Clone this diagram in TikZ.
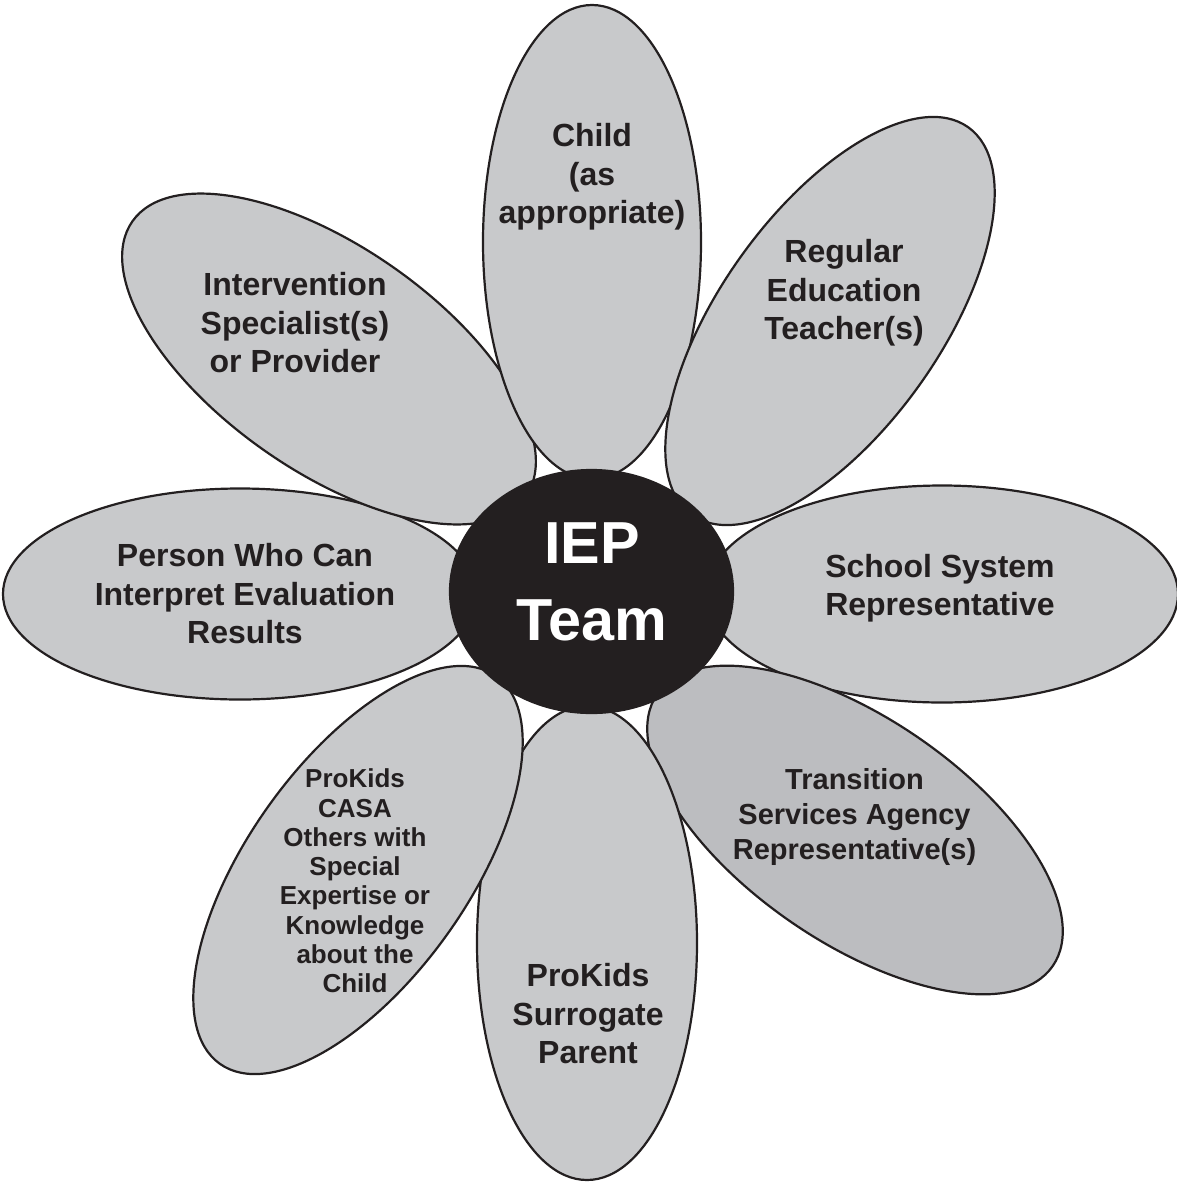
\documentclass[tikz,border=0pt]{standalone}
\usepackage{fontspec}
\setmainfont{Liberation Sans}
\usetikzlibrary{shapes.geometric}
\definecolor{petalgray}{RGB}{200,201,203}
\definecolor{petaldark}{RGB}{188,189,192}
\definecolor{ink}{RGB}{35,31,32}
\begin{document}
\begin{tikzpicture}[x=1pt,y=-1pt,
  petal/.style={ellipse, draw=ink, line width=2.2pt, fill=petalgray,
                inner sep=0pt, outer sep=0pt},
  hub/.style={ellipse, draw=ink, line width=2.2pt, fill=ink,
              inner sep=0pt, outer sep=0pt},
  lbl/.style={text=ink, align=center, inner sep=0pt,
              font=\bfseries\fontsize{32}{38.5}\selectfont},
  lblsmall/.style={lbl, font=\bfseries\fontsize{29}{35}\selectfont},
  lbltiny/.style={lbl, font=\bfseries\fontsize{26}{29.3}\selectfont},
  hubtext/.style={text=white, align=center, inner sep=0pt,
                  font=\bfseries\fontsize{59.3}{77}\selectfont}]
\useasboundingbox (0,0) rectangle (1177,1184);

% petals around the centre
\node[petal, minimum width=474, minimum height=211] (pPerson) at (240,594) {};
\node[petal, minimum width=480, minimum height=224, rotate=-35] (pInterv) at (329,359) {};
\node[petal, minimum width=474, minimum height=218, rotate=90] (pChild) at (592,242) {};
\node[petal, minimum width=476, minimum height=220, rotate=54.5] (pRegular) at (830,321) {};
\node[petal, minimum width=472, minimum height=217] (pSchool) at (942,594) {};
\node[petal, fill=petaldark, minimum width=480, minimum height=224, rotate=-34.5] (pTrans) at (855,830) {};
\node[petal, minimum width=474, minimum height=220, rotate=90] (pSurr) at (587,943) {};
\node[petal, minimum width=476, minimum height=220, rotate=54.5] (pCasa) at (358,870) {};

% centre disc
\node[hub, minimum width=283, minimum height=243] (hub) at (591.5,591.5) {};
\node[hubtext] (hubLabel) at (592,582) {IEP\\Team};

% petal labels
\node[lbl] (tChild) at (592,177) {Child\\(as\\appropriate)};
\node[lbl] (tRegular) at (844,293) {Regular\\Education\\Teacher(s)};
\node[lbl] (tInterv) at (295,323) {Intervention\\Specialist(s)\\or Provider};
\node[lbl] (tPerson) at (245,594) {Person Who Can\\Interpret Evaluation\\Results};
\node[lbl] (tSchool) at (940,588) {School System\\Representative};
\node[lblsmall] (tTrans) at (854.5,817) {Transition\\Services Agency\\Representative(s)};
\node[lbl] (tSurr) at (588,1014) {ProKids\\Surrogate\\Parent};
\node[lbltiny] (tCasa) at (355,881) {ProKids\\CASA\\Others with\\Special\\Expertise or\\Knowledge\\about the\\Child};
\end{tikzpicture}
\end{document}
